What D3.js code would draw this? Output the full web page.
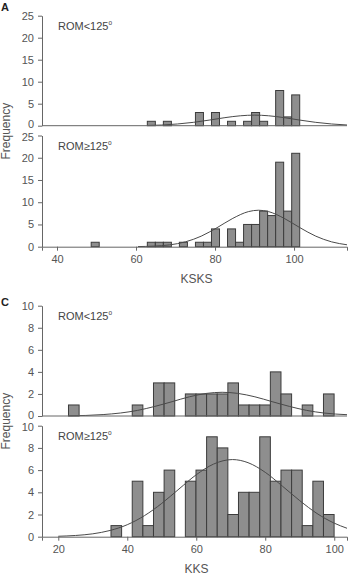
<!DOCTYPE html>
<html>
<head>
<meta charset="utf-8">
<script src="https://cdn.jsdelivr.net/npm/d3@7"></script>
<style>
  body { margin: 0; background: #fff; }
  svg { display: block; font-family: "Liberation Sans", Arial, sans-serif; }
  .axis path, .axis line { stroke: #666; }
  .axis text { fill: #555; font-size: 11px; }
</style>
</head>
<body>
<div id="chart"></div>
<script>
// KSKS histograms (figure A), bin edges shared by both panels
const ksksEdges = [48.65, 50.68, 52.71, 54.74, 56.77, 58.80, 60.83, 62.86, 64.89, 66.92,
  68.95, 70.98, 73.01, 75.04, 77.07, 79.10, 81.13, 83.16, 85.19, 87.22,
  89.25, 91.28, 93.31, 95.34, 97.37, 99.40, 101.43];
const ksksLow  = [0,0,0,0,0,0,0,1,0,1, 0,0,0,3,0,3,0,1,0,1, 3,1,0,8,2,7];
const ksksHigh = [1,0,0,0,0,0,0,1,1,1, 0,1,0,1,1,4,0,4,1,5, 5,8,7,19,8,21];
const ksksFitLow = [[63,0.06],[66.5,0.15],[70.5,0.39],[74.5,0.76],[78.5,1.27],[82.5,1.83],
  [86.5,2.26],[90,2.4],[93.5,2.26],[97.5,1.83],[101.5,1.27],[105.5,0.76],[109.5,0.39],[113.4,0.16]];
const ksksFitHigh = [[60.5,0.03],[64.5,0.13],[68.5,0.41],[72.5,1.09],[76.5,2.37],[80.5,4.27],
  [84.5,6.37],[88.5,7.9],[91,8.2],[93.5,7.9],[97.5,6.37],[101.5,4.27],[105.5,2.37],[109.5,1.09],[113.4,0.43]];
const ksksTicks = [40, 60, 80, 100];
const ksksYTicks = [0, 5, 10, 15, 20, 25];

// KKS histograms (figure C)
const kksEdges = [22.96, 26.04, 29.12, 32.20, 35.28, 38.36, 41.44, 44.52, 47.60, 50.68,
  53.76, 56.84, 59.92, 63.00, 66.08, 69.16, 72.24, 75.32, 78.40, 81.48,
  84.56, 87.64, 90.72, 93.80, 96.88, 99.96];
const kksLow  = [1,0,0,0,0,0,1,0,3,3, 0,2,2,2,2,3,1,1,1,4, 2,0,1,0,2];
const kksHigh = [0,0,0,0,1,0,5,1,4,6, 0,5,6,9,8,2,4,4,9,5, 6,6,1,5,2];
const kksFitLow = [[23,0.02],[28,0.05],[33,0.13],[38,0.27],[43,0.51],[48,0.87],[53,1.3],[58,1.74],
  [63,2.05],[67.5,2.15],[72,2.05],[77,1.74],[82,1.3],[87,0.87],[92,0.51],[97,0.27],[103.7,0.12]];
const kksFitHigh = [[20,0.04],[25,0.11],[30,0.26],[35,0.56],[40,1.08],[45,1.9],[50,3.0],[55,4.3],
  [60,5.58],[65,6.54],[70.5,6.95],[75,6.67],[80,5.8],[85,4.55],[90,3.25],[95,2.09],[100,1.22],[103.7,0.76]];
const kksTicks = [20, 40, 60, 80, 100];
const kksYTicks = [0, 2, 4, 6, 8, 10];

const groupLabels = ['A', 'C'];
const panelLabels = ['ROM<125', 'ROM\u2265125'];
const axisTitles = ['KSKS', 'KKS'];

const width = 349, height = 581;
const left = 42, right = 347;

const svg = d3.select('#chart').append('svg')
  .attr('width', width)
  .attr('height', height);

const xKsks = d3.scaleLinear().domain([36.2, 113.4]).range([left, right]);
const xKks = d3.scaleLinear().domain([15.28, 103.7]).range([left, right]);

const line = (x, y) => d3.line()
  .x(d => x(d[0]))
  .y(d => y(d[1]))
  .curve(d3.curveMonotoneX);

function panel(x, yTop, yBottom, yMax, yTicks, edges, counts, fit, label, bottomAxis, title) {
  const y = d3.scaleLinear().domain([0, yMax]).range([yBottom, yTop]);
  const g = svg.append('g');

  const bins = counts.map((c, i) => ({ x0: edges[i], x1: edges[i + 1], n: c })).filter(d => d.n > 0);
  g.selectAll('rect.bar')
    .data(bins)
    .join('rect')
    .attr('class', 'bar')
    .attr('x', d => x(d.x0))
    .attr('y', d => y(d.n))
    .attr('width', d => x(d.x1) - x(d.x0))
    .attr('height', d => y(0) - y(d.n))
    .attr('fill', '#8e8e8e')
    .attr('stroke', '#3c3c3c')
    .attr('stroke-width', 1);

  g.append('path')
    .datum(fit)
    .attr('d', line(x, y))
    .attr('fill', 'none')
    .attr('stroke', '#4a4a4a')
    .attr('stroke-width', 1);

  // y axis; the 0 of the upper panel and the top label of the lower one nearly touch
  const ya = g.append('g')
    .attr('class', 'axis')
    .attr('transform', `translate(${left},0)`)
    .call(d3.axisLeft(y).tickValues(yTicks).tickSize(4).tickSizeOuter(0).tickPadding(4));
  ya.selectAll('.tick text')
    .attr('y', d => {
      if (!bottomAxis && d === 0) return -1.4;
      if (bottomAxis && d === yMax) return 1.4;
      return 0;
    });

  // x axis
  if (bottomAxis) {
    g.append('g')
      .attr('class', 'axis')
      .attr('transform', `translate(0,${yBottom})`)
      .call(d3.axisBottom(x).tickValues(bottomAxis).tickSize(4).tickSizeOuter(4).tickPadding(5));
    g.append('text')
      .attr('x', (left + right) / 2 + 2)
      .attr('y', yBottom + 36)
      .attr('text-anchor', 'middle')
      .attr('font-size', 12)
      .attr('fill', '#555')
      .text(title);
  } else {
    g.append('line')
      .attr('x1', left).attr('x2', right)
      .attr('y1', yBottom).attr('y2', yBottom)
      .attr('stroke', '#666');
  }

  const t = g.append('text')
    .attr('x', 58)
    .attr('y', yTop + 14)
    .attr('font-size', 11)
    .attr('fill', '#444')
    .text(label);
  t.append('tspan')
    .attr('dy', -5)
    .attr('font-size', 6.5)
    .text('o');
}

function group(letter, letterY, x, tops, bottoms, yMax, yTicks, edges, lows, highs, fitLow, fitHigh, ticks, title) {
  svg.append('text')
    .attr('x', 1)
    .attr('y', letterY)
    .attr('font-size', 11)
    .attr('font-weight', 'bold')
    .attr('fill', '#222')
    .text(letter);

  panel(x, tops[0], bottoms[0], yMax, yTicks, edges, lows, fitLow, panelLabels[0], null, null);
  panel(x, tops[1], bottoms[1], yMax, yTicks, edges, highs, fitHigh, panelLabels[1], ticks, title);

  const mid = (tops[0] + bottoms[1]) / 2;
  svg.append('text')
    .attr('transform', `translate(10,${mid}) rotate(-90)`)
    .attr('text-anchor', 'middle')
    .attr('font-size', 12)
    .attr('fill', '#555')
    .text('Frequency');
}

group(groupLabels[0], 11, xKsks, [15.7, 135.5], [125.7, 246.7], 25, ksksYTicks,
  ksksEdges, ksksLow, ksksHigh, ksksFitLow, ksksFitHigh, ksksTicks, axisTitles[0]);
group(groupLabels[1], 306, xKks, [305.7, 425.7], [416, 536.7], 10, kksYTicks,
  kksEdges, kksLow, kksHigh, kksFitLow, kksFitHigh, kksTicks, axisTitles[1]);
</script>
</body>
</html>
